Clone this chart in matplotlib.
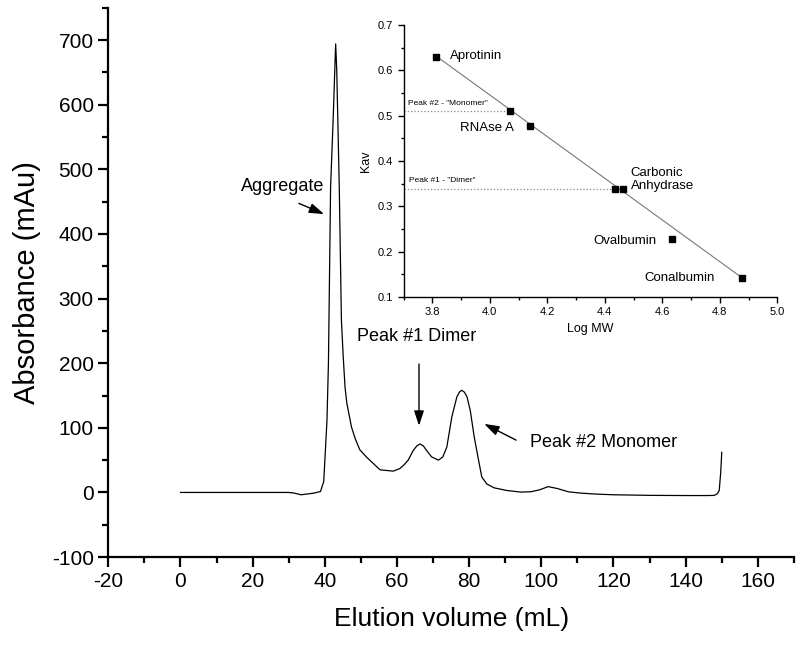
import matplotlib
matplotlib.use("Agg")
import matplotlib.pyplot as plt
from matplotlib.ticker import MultipleLocator

plt.rcParams['font.family'] = ['Liberation Sans', 'DejaVu Sans']
plt.rcParams['axes.unicode_minus'] = False

# chromatogram trace (elution volume mL, absorbance mAu)
vol = [0, 10, 20, 30, 31.5, 33.4, 35, 37, 38.8, 39.7, 40.6, 41.0, 41.6, 42.3, 43.0,
       43.3, 44.0, 44.6, 45.1, 45.6, 46.1, 47.4, 48.5, 49.7, 51.5, 53.4, 55.3, 57.1,
       59.0, 60.8, 62.0, 63.1, 64.5, 65.5, 66.4, 67.3, 68.2, 69.6, 71.5, 72.7, 73.8,
       75.2, 76.6, 77.4, 78.0, 78.7, 79.4, 80.3, 81.4, 82.6, 83.5, 84.9, 87.0, 90.5,
       94.2, 97.0, 99.5, 101.9, 104.5, 107.5, 110.8, 115, 120, 130, 140, 146, 147.9,
       148.8, 149.3, 149.7, 150.0]
absorb = [0, 0, 0, 0, -1, -3.6, -2.5, -1, 1.5, 17, 112, 200, 473, 576, 694,
          654, 473, 266, 210, 163, 138, 101, 82, 66, 55, 45, 35, 34,
          33, 37, 43, 50, 65, 72, 75, 72, 65, 55, 50, 55, 70,
          117, 148, 156, 158, 155, 148, 127, 86, 50, 24, 13, 7, 3,
          0.6, 1, 4, 9, 6, 1, -1, -2.5, -3.6, -4.5, -4.8, -4.8, -4.6,
          -2, 3, 30, 62]

# calibration (inset)
std_names = ['Aprotinin', 'RNAse A', 'Carbonic\nAnhydrase', 'Ovalbumin', 'Conalbumin']
std_logmw = [3.814, 4.139, 4.464, 4.635, 4.878]
std_kav = [0.630, 0.477, 0.339, 0.227, 0.142]
peak_names = ['Peak #2 - "Monomer"', 'Peak #1 - "Dimer"']
peak_logmw = [4.069, 4.436]
peak_kav = [0.511, 0.339]
fit_x = [3.814, 4.878]
fit_y = [0.631, 0.142]

fig = plt.figure(figsize=(8, 6.47), dpi=100)
ax = fig.add_axes([0.1354, 0.139, 0.857, 0.849])
ax.plot(vol, absorb, color='black', lw=0.9)
ax.set_xlim(-20, 170)
ax.set_ylim(-100, 750)
ax.xaxis.set_major_locator(MultipleLocator(20))
ax.xaxis.set_minor_locator(MultipleLocator(10))
ax.yaxis.set_major_locator(MultipleLocator(100))
ax.yaxis.set_minor_locator(MultipleLocator(50))
ax.set_yticks(range(-100, 701, 100))
for s in ['top', 'right']:
    ax.spines[s].set_visible(False)
for s in ['left', 'bottom']:
    ax.spines[s].set_linewidth(1.6)
ax.tick_params(which='major', direction='out', length=7, width=1.6, labelsize=15)
ax.tick_params(which='minor', direction='out', length=4, width=1.6)
ax.set_xlabel('Elution volume (mL)', fontsize=19, labelpad=12)
ax.set_ylabel('Absorbance (mAu)', fontsize=21, labelpad=8)

arrow = dict(arrowstyle='-|>,head_length=0.9,head_width=0.3', color='black', lw=1)
ax.annotate('', xy=(40.5, 429), xytext=(32.1, 449), arrowprops=arrow)
ax.text(28.3, 473, 'Aggregate', fontsize=13, ha='center', va='center')
ax.annotate('', xy=(66.1, 99), xytext=(66.1, 203), arrowprops=arrow)
ax.text(65.5, 241, 'Peak #1 Dimer', fontsize=13, ha='center', va='center')
ax.annotate('', xy=(83.5, 108), xytext=(93.7, 79), arrowprops=arrow)
ax.text(96.9, 77, 'Peak #2 Monomer', fontsize=13, ha='left', va='center')

# inset calibration curve
ins = fig.add_axes([0.5045, 0.541, 0.4672, 0.4204])
ins.set_xlim(3.7, 5.0)
ins.set_ylim(0.1, 0.7)
ins.plot(fit_x, fit_y, color='#777777', lw=0.8)
for px, py in zip(peak_logmw, peak_kav):
    ins.plot([3.7, px], [py, py], color='#888888', lw=0.9, ls=':')
ins.plot(std_logmw + peak_logmw, std_kav + peak_kav, 's', color='black', ms=5)

ins.text(3.861, 0.632, std_names[0], fontsize=9.5, ha='left', va='center')
ins.text(4.084, 0.472, std_names[1], fontsize=9.5, ha='right', va='center')
ins.text(4.49, 0.359, std_names[2], fontsize=9.5, ha='left', va='center', linespacing=1.2)
ins.text(4.578, 0.224, std_names[3], fontsize=9.5, ha='right', va='center')
ins.text(4.783, 0.142, std_names[4], fontsize=9.5, ha='right', va='center')
ins.text(3.714, 0.527, peak_names[0], fontsize=6, ha='left', va='center')
ins.text(3.719, 0.358, peak_names[1], fontsize=6, ha='left', va='center')

ins.xaxis.set_major_locator(MultipleLocator(0.2))
ins.xaxis.set_minor_locator(MultipleLocator(0.1))
ins.yaxis.set_major_locator(MultipleLocator(0.1))
ins.yaxis.set_minor_locator(MultipleLocator(0.05))
for s in ['top', 'right']:
    ins.spines[s].set_visible(False)
for s in ['left', 'bottom']:
    ins.spines[s].set_linewidth(1.0)
ins.tick_params(which='major', direction='out', length=4, width=1.0, labelsize=8)
ins.tick_params(which='minor', direction='out', length=2.5, width=1.0)
ins.set_xlabel('Log MW', fontsize=9)
ins.set_ylabel('Kav', fontsize=9)
ins.patch.set_alpha(0)

fig.savefig('out.png', dpi=100)
